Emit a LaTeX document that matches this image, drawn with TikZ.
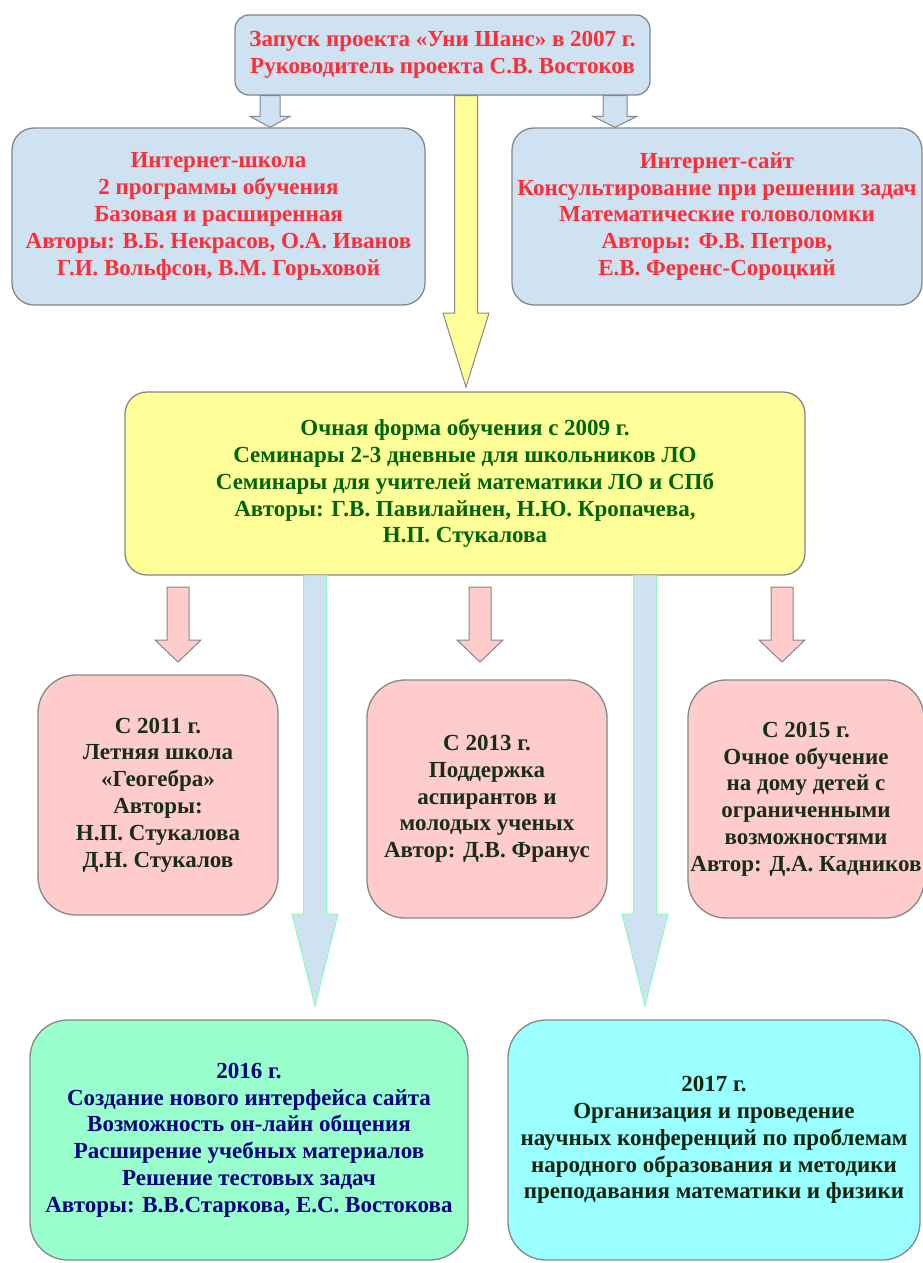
\documentclass[tikz,border=0pt]{standalone}
\usepackage{fontspec}
\setmainfont{Liberation Serif}
\usetikzlibrary{calc}
\definecolor{blueF}{RGB}{207,226,242}
\definecolor{edgeG}{RGB}{135,135,135}
\definecolor{redT}{RGB}{255,45,55}
\definecolor{yellowF}{RGB}{255,255,153}
\definecolor{greenT}{RGB}{0,100,0}
\definecolor{pinkF}{RGB}{255,204,204}
\definecolor{pinkT}{RGB}{25,45,25}
\definecolor{mintF}{RGB}{153,255,204}
\definecolor{navyT}{RGB}{0,0,128}
\definecolor{cyanF}{RGB}{153,255,255}
\definecolor{cyanT}{RGB}{15,35,15}
\definecolor{mintE}{RGB}{140,250,190}
\newcommand\blockarr[6]{% style, start, end, shaft half width, head half width, head length
  \draw[#1] ($(#2)+(-#4,0)$) -- ($(#3)+(-#4,-#6)$) -- ($(#3)+(-#5,-#6)$) -- (#3)
    -- ($(#3)+(#5,-#6)$) -- ($(#3)+(#4,-#6)$) -- ($(#2)+(#4,0)$) -- cycle;}
\begin{document}
\begin{tikzpicture}[x=1pt,y=-1pt,
  box/.style={draw=edgeG,line width=1.3pt,rounded corners=22pt,inner sep=0pt,align=center,
    font=\fontsize{23}{26.8}\selectfont\bfseries},
  bluebox/.style={box,fill=blueF,text=redT},
  yellowbox/.style={box,fill=yellowF,text=greenT},
  pinkbox/.style={box,fill=pinkF,text=pinkT},
  mintbox/.style={box,fill=mintF,text=navyT},
  cyanbox/.style={box,fill=cyanF,text=cyanT},
  blueArr/.style={fill=blueF,draw=edgeG,line width=1pt},
  yellowArr/.style={fill=yellowF,draw=edgeG,line width=1pt},
  pinkArr/.style={fill=pinkF,draw=edgeG,line width=1pt},
  longArr/.style={fill=blueF,draw=mintE,line width=1pt}]
\useasboundingbox (0,0) rectangle (923,1263);

\node[bluebox,minimum width=415pt,minimum height=80pt,rounded corners=14pt] (top) at (442.5,55)
  {Запуск проекта «Уни Шанс» в 2007 г.\\Руководитель проекта С.В. Востоков};
\node[bluebox,minimum width=413pt,minimum height=177pt] (ischool) at (218.5,216.5)
  {Интернет-школа\\2 программы обучения\\Базовая и расширенная\\Авторы: В.Б. Некрасов, О.А. Иванов\\Г.И. Вольфсон, В.М. Горьховой};
\node[bluebox,minimum width=410pt,minimum height=177pt] (isite) at (717,216.5)
  {Интернет-сайт\\Консультирование при решении задач\\Математические головоломки\\Авторы: Ф.В. Петров,\\Е.В. Ференс-Сороцкий};
\node[yellowbox,minimum width=680pt,minimum height=183pt] (ochn) at (465,483.5)
  {Очная форма обучения с 2009 г.\\Семинары 2-3 дневные для школьников ЛО\\Семинары для учителей математики ЛО и СПб\\Авторы: Г.В. Павилайнен, Н.Ю. Кропачева,\\Н.П. Стукалова};
\node[pinkbox,minimum width=240pt,minimum height=240pt,rounded corners=38pt] (p1) at (158,795)
  {С 2011 г.\\Летняя школа\\«Геогебра»\\Авторы:\\Н.П. Стукалова\\Д.Н. Стукалов};
\node[pinkbox,minimum width=240pt,minimum height=238pt,rounded corners=38pt] (p2) at (487,799)
  {С 2013 г.\\Поддержка\\аспирантов и\\молодых ученых\\Автор: Д.В. Франус};
\node[pinkbox,minimum width=236pt,minimum height=238pt,rounded corners=38pt] (p3) at (806,799)
  {С 2015 г.\\Очное обучение\\на дому детей с\\ограниченными\\возможностями\\Автор: Д.А. Кадников};
\node[mintbox,minimum width=438pt,minimum height=240pt,rounded corners=38pt] (y2016) at (249,1140)
  {2016 г.\\Создание нового интерфейса сайта\\Возможность он-лайн общения\\Расширение учебных материалов\\Решение тестовых задач\\Авторы: В.В.Старкова, Е.С. Востокова};
\node[cyanbox,minimum width=412pt,minimum height=240pt,rounded corners=38pt] (y2017) at (714,1140)
  {2017 г.\\Организация и проведение\\научных конференций по проблемам\\народного образования и методики\\преподавания математики и физики};

% column coordinates
\coordinate (xa) at (270,0);
\coordinate (xb) at (615,0);
\coordinate (xc) at (466,0);
\coordinate (xd) at (178,0);
\coordinate (xe) at (480,0);
\coordinate (xf) at (782,0);
\coordinate (xg) at (315,0);
\coordinate (xh) at (645,0);
\coordinate (pinkTop) at (0,587);
\coordinate (yTip) at (0,387);
\coordinate (pinkTip) at (0,662);
\coordinate (longTip) at (0,1006);

\coordinate (a1s) at (top.south -| xa);
\coordinate (a1e) at (ischool.north -| xa);
\coordinate (a2s) at (top.south -| xb);
\coordinate (a2e) at (isite.north -| xb);
\coordinate (a3s) at (top.south -| xc);
\coordinate (a3e) at (yTip -| xc);
\coordinate (a4s) at (pinkTop -| xd);
\coordinate (a4e) at (pinkTip -| xd);
\coordinate (a5s) at (pinkTop -| xe);
\coordinate (a5e) at (pinkTip -| xe);
\coordinate (a6s) at (pinkTop -| xf);
\coordinate (a6e) at (pinkTip -| xf);
\coordinate (a7s) at (ochn.south -| xg);
\coordinate (a7e) at (longTip -| xg);
\coordinate (a8s) at (ochn.south -| xh);
\coordinate (a8e) at (longTip -| xh);

\blockarr{blueArr}{a1s}{a1e}{10}{20}{11}
\blockarr{blueArr}{a2s}{a2e}{12}{22}{11}
\blockarr{yellowArr}{a3s}{a3e}{11.5}{23}{74}
\blockarr{pinkArr}{a4s}{a4e}{11}{23}{22}
\blockarr{pinkArr}{a5s}{a5e}{11}{23}{22}
\blockarr{pinkArr}{a6s}{a6e}{11}{23}{22}
\blockarr{longArr}{a7s}{a7e}{11.5}{23}{92}
\blockarr{longArr}{a8s}{a8e}{11.5}{23}{92}
\end{tikzpicture}
\end{document}
